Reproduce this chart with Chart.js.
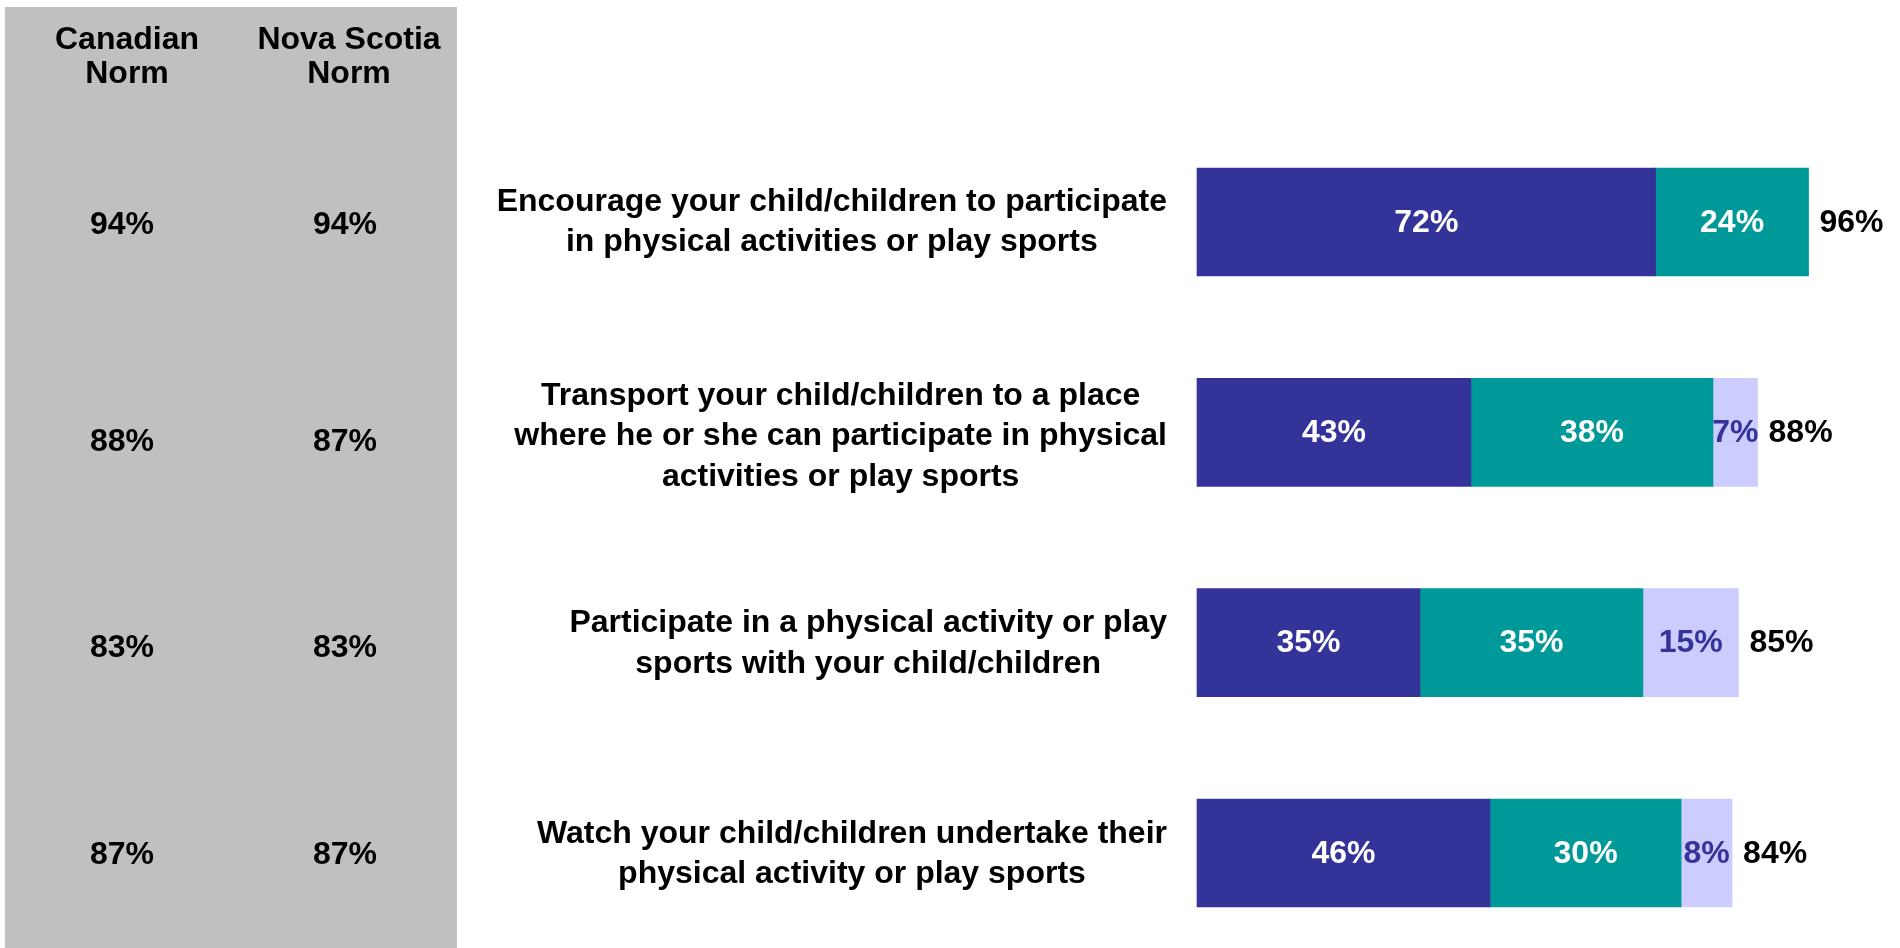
<!DOCTYPE html>
<html lang="en">
<head>
    <meta charset="utf-8">
    <title>Parental Support for Physical Activity</title>
    <script src="https://cdn.jsdelivr.net/npm/chart.js"></script>
    <style>
        html, body { margin: 0; padding: 0; background: #ffffff; overflow: hidden; }
        #chartBox { width: 1900px; height: 948px; }
    </style>
</head>
<body>
    <div id="chartBox">
        <canvas id="supportChart" width="1900" height="948"></canvas>
    </div>

    <script>
        // Chart data
        const categories = [
            ['Encourage your child/children to participate', 'in physical activities or play sports'],
            ['Transport your child/children to a place', 'where he or she can participate in physical', 'activities or play sports'],
            ['Participate in a physical activity or play', 'sports with your child/children'],
            ['Watch your child/children undertake their', 'physical activity or play sports']
        ];
        const darkValues = [72, 43, 35, 46];
        const tealValues = [24, 38, 35, 30];
        const lightValues = [0, 7, 15, 8];
        const totals = [96, 88, 85, 84];
        const normHeaders = [['Canadian', 'Norm'], ['Nova Scotia', 'Norm']];
        const canadianNorm = [94, 88, 83, 87];
        const novaScotiaNorm = [94, 87, 83, 87];

        const FONT = 'bold 32px "Liberation Sans", Arial, sans-serif';
        const LINE_HEIGHT = 40.5;
        // small vertical nudges of the text blocks (layout only)
        const labelNudge = [0, 4, 1, 1];
        const normNudge = [3, 10, 6, 2];

        // Grey norm panel, labels and values drawn around the bars
        const overlayPlugin = {
            id: 'overlay',
            beforeDraw(chart) {
                const c = chart.ctx;
                c.save();
                c.fillStyle = '#ffffff';
                c.fillRect(0, 0, chart.width, chart.height);
                c.fillStyle = '#c0c0c0';
                c.fillRect(5, 7, 452, chart.height - 7);
                c.restore();
            },
            afterDatasetsDraw(chart) {
                const c = chart.ctx;
                const xScale = chart.scales.x;
                const yScale = chart.scales.y;
                c.save();
                c.font = FONT;
                c.textBaseline = 'middle';
                c.textAlign = 'center';

                // values inside the segments
                chart.data.datasets.forEach((ds, i) => {
                    chart.getDatasetMeta(i).data.forEach((bar, j) => {
                        if (!ds.data[j]) return;
                        c.fillStyle = i === 2 ? '#333399' : '#ffffff';
                        c.fillText(ds.data[j] + '%', (bar.x + bar.base) / 2, bar.y + 1);
                    });
                });

                // totals to the right of each bar
                c.textAlign = 'left';
                c.fillStyle = '#000000';
                totals.forEach((t, j) => {
                    c.fillText(t + '%', xScale.getPixelForValue(t) + 11, yScale.getPixelForValue(j) + 1);
                });

                // category labels, each block centred and right aligned to the bars
                categories.forEach((lines, j) => {
                    const widest = Math.max(...lines.map(l => c.measureText(l).width));
                    const cx = xScale.left - 30 - widest / 2;
                    const y0 = yScale.getPixelForValue(j) + labelNudge[j] - (lines.length - 1) * LINE_HEIGHT / 2;
                    c.textAlign = 'center';
                    lines.forEach((l, k) => c.fillText(l, cx, y0 + k * LINE_HEIGHT));
                });

                // norm columns
                const headerX = [127, 349];
                const colX = [122, 345];
                normHeaders.forEach((h, i) => {
                    h.forEach((l, k) => c.fillText(l, headerX[i], 40 + k * 34));
                });
                [canadianNorm, novaScotiaNorm].forEach((vals, i) => {
                    vals.forEach((v, j) => c.fillText(v + '%', colX[i], yScale.getPixelForValue(j) + normNudge[j]));
                });
                c.restore();
            }
        };

        const ctx = document.getElementById('supportChart').getContext('2d');

        const supportChart = new Chart(ctx, {
            type: 'bar',
            data: {
                labels: categories,
                datasets: [
                    { label: 'Dark', data: darkValues, backgroundColor: '#333399' },
                    { label: 'Teal', data: tealValues, backgroundColor: '#009999' },
                    { label: 'Light', data: lightValues, backgroundColor: '#ccccff' }
                ].map(ds => Object.assign(ds, { barThickness: 108, borderWidth: 0, clip: false }))
            },
            options: {
                indexAxis: 'y',
                responsive: false,
                animation: false,
                layout: {
                    padding: { left: 1197, right: 66, top: 222, bottom: 95 }
                },
                scales: {
                    x: { stacked: true, min: 0, max: 100, display: false },
                    y: { stacked: true, offset: false, display: false }
                },
                plugins: {
                    legend: { display: false },
                    tooltip: { enabled: false }
                }
            },
            plugins: [overlayPlugin]
        });
    </script>
</body>
</html>
